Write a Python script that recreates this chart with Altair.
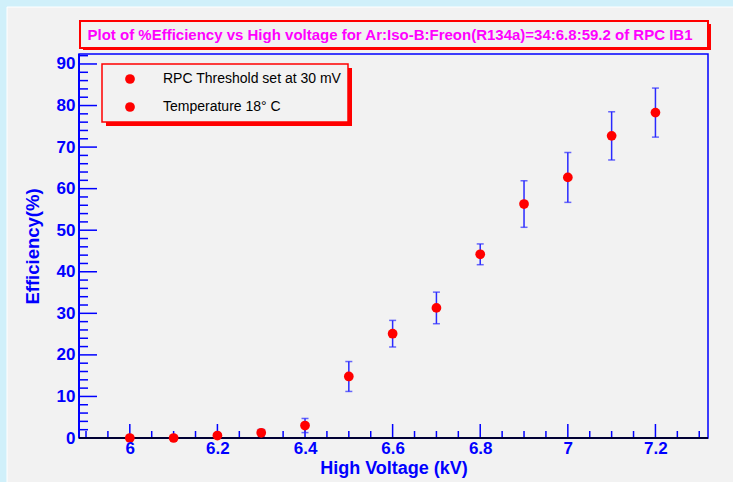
import altair as alt
import pandas as pd

# ---- data ----
hv = [6.0, 6.1, 6.2, 6.3, 6.4, 6.5, 6.6, 6.7, 6.8, 6.9, 7.0, 7.1, 7.2]
eff = [0.0, 0.0, 0.6, 1.25, 3.0, 14.8, 25.1, 31.3, 44.2, 56.3, 62.7, 72.7, 78.3]
err = [0.0, 0.0, 0.5, 0.8, 1.7, 3.6, 3.2, 3.8, 2.5, 5.6, 6.0, 5.8, 5.9]

x_major = [6.0, 6.2, 6.4, 6.6, 6.8, 7.0, 7.2]
x_minor = [5.9, 5.95, 6.05, 6.1, 6.15, 6.25, 6.3, 6.35, 6.45, 6.5, 6.55, 6.65, 6.7,
           6.75, 6.85, 6.9, 6.95, 7.05, 7.1, 7.15, 7.25, 7.3]
y_major = [0, 10, 20, 30, 40, 50, 60, 70, 80, 90]
y_minor = [v for v in range(0, 93, 2) if v % 10 != 0]

title_text = "Plot of %Efficiency vs High voltage for Ar:Iso-B:Freon(R134a)=34:6.8:59.2 of RPC IB1"
legend_lines = ["RPC Threshold set at 30 mV", "Temperature 18° C"]

W, H = 629, 384
XDOM = [5.884, 7.32]
YDOM = [0, 92.4]
BLUE = "#0000ff"
EBLUE = "#2a2aff"
RED = "#ff0000"
FONT = "Liberation Sans"

df = pd.DataFrame({"hv": hv, "eff": eff, "err": err})
df["lo"] = df["eff"] - df["err"]
df["hi"] = df["eff"] + df["err"]
eb = df[df["err"] > 0]

xs = alt.Scale(domain=XDOM, nice=False, zero=False)
ys = alt.Scale(domain=YDOM, nice=False, zero=False)

x_axis = alt.Axis(values=x_major, format="~g", ticks=False, domain=False, grid=False,
                  labelFont=FONT, labelFontWeight="bold", labelFontSize=17, labelColor=BLUE,
                  labelPadding=2, labelFlush=False, labelOverlap=False,
                  title="High Voltage (kV)", titleFont=FONT, titleFontWeight="bold",
                  titleFontSize=18, titleColor=BLUE, titlePadding=3, zindex=1)
y_axis = alt.Axis(values=y_major, ticks=False, domain=False, grid=False,
                  labelFont=FONT, labelFontWeight="bold", labelFontSize=17, labelColor=BLUE,
                  labelPadding=4, labelFlush=False, labelOverlap=False,
                  title="Efficiency(%)", titleFont=FONT, titleFontWeight="bold",
                  titleFontSize=18.5, titleColor=BLUE, titlePadding=14, zindex=1)

# background panel (gray pad on cyan canvas)
pad = alt.Chart(pd.DataFrame({"a": [0]})).mark_rect(color="#f2f2f2", stroke="#ffffff", strokeWidth=1).encode(
    x=alt.value(-72), x2=alt.value(W + 40), y=alt.value(-47), y2=alt.value(H + 60))

# frame
frame = alt.Chart(pd.DataFrame({"a": [0]})).mark_rect(fill="#f2f2f2", stroke=BLUE, strokeWidth=1.5).encode(
    x=alt.value(0), x2=alt.value(W), y=alt.value(0), y2=alt.value(H))

# axis ticks (inside)
ymaj = alt.Chart(pd.DataFrame({"v": y_major})).mark_rule(color=BLUE, strokeWidth=1.5).encode(
    y=alt.Y("v:Q", scale=ys, axis=y_axis), x=alt.value(0), x2=alt.value(18))
ymin = alt.Chart(pd.DataFrame({"v": y_minor})).mark_rule(color=BLUE, strokeWidth=1.5).encode(
    y=alt.Y("v:Q", scale=ys), x=alt.value(0), x2=alt.value(9))
xmaj = alt.Chart(pd.DataFrame({"v": x_major})).mark_rule(color=BLUE, strokeWidth=1.5).encode(
    x=alt.X("v:Q", scale=xs, axis=x_axis), y=alt.value(H), y2=alt.value(H - 14))
xmin = alt.Chart(pd.DataFrame({"v": x_minor})).mark_rule(color=BLUE, strokeWidth=1.5).encode(
    x=alt.X("v:Q", scale=xs), y=alt.value(H), y2=alt.value(H - 7))
leftline = alt.Chart(pd.DataFrame({"a": [0]})).mark_rule(color=BLUE, strokeWidth=2).encode(
    x=alt.value(0), y=alt.value(0), y2=alt.value(H))
baseline = alt.Chart(pd.DataFrame({"a": [0]})).mark_rule(color="#000033", strokeWidth=2).encode(
    x=alt.value(0), x2=alt.value(W), y=alt.value(H))

# error bars
bars = alt.Chart(eb).mark_rule(color=EBLUE, strokeWidth=1.5).encode(
    x=alt.X("hv:Q", scale=xs), y=alt.Y("lo:Q", scale=ys), y2="hi:Q")
cap_lo = alt.Chart(eb).mark_tick(color=EBLUE, orient="horizontal", size=7, thickness=1.5).encode(
    x=alt.X("hv:Q", scale=xs), y=alt.Y("lo:Q", scale=ys))
cap_hi = alt.Chart(eb).mark_tick(color=EBLUE, orient="horizontal", size=7, thickness=1.5).encode(
    x=alt.X("hv:Q", scale=xs), y=alt.Y("hi:Q", scale=ys))
pts = alt.Chart(df).mark_circle(color=RED, opacity=1, size=95).encode(
    x=alt.X("hv:Q", scale=xs), y=alt.Y("eff:Q", scale=ys))

# title box
one = pd.DataFrame({"t": [title_text]})
tshadow = alt.Chart(one).mark_rect(color=RED).encode(
    x=alt.value(4), x2=alt.value(632), y=alt.value(-30), y2=alt.value(-4))
tbox = alt.Chart(one).mark_rect(fill="#f2f2f2", stroke=RED, strokeWidth=2).encode(
    x=alt.value(1), x2=alt.value(629), y=alt.value(-33), y2=alt.value(-6))
ttext = alt.Chart(one).mark_text(font=FONT, fontWeight="bold", fontSize=15, color="#ff00ff",
                                 align="center", baseline="middle").encode(
    x=alt.value(311), y=alt.value(-19.5), text="t:N")

# legend box
lg = pd.DataFrame({"t": legend_lines, "yy": [25, 53]})
lshadow = alt.Chart(one).mark_rect(color=RED).encode(
    x=alt.value(27), x2=alt.value(273), y=alt.value(14), y2=alt.value(72))
lbox = alt.Chart(one).mark_rect(fill="#f2f2f2", stroke=RED, strokeWidth=1.5).encode(
    x=alt.value(23), x2=alt.value(269), y=alt.value(10), y2=alt.value(68))
ldots = alt.Chart(lg).mark_circle(color=RED, opacity=1, size=95).encode(
    x=alt.value(51), y=alt.Y("yy:Q", scale=None))
ltext = alt.Chart(lg).mark_text(font=FONT, fontSize=14, color="#000000", align="left",
                                baseline="middle").encode(
    x=alt.value(84), y=alt.Y("yy:Q", scale=None), text="t:N")

chart = alt.layer(
    pad, frame, ymaj, ymin, xmaj, xmin, leftline, baseline,
    bars, cap_lo, cap_hi, pts,
    tshadow, tbox, ttext, lshadow, lbox, ldots, ltext
).resolve_scale(y="shared").properties(
    width=W, height=H,
    background="#d0f0fa",
    padding={"left": 79, "top": 54, "right": 25, "bottom": 44},
    autosize=alt.AutoSizeParams(type="none"),
).configure_view(stroke=None)

chart.save("out.html", embed_options={"renderer": "svg", "actions": False})
